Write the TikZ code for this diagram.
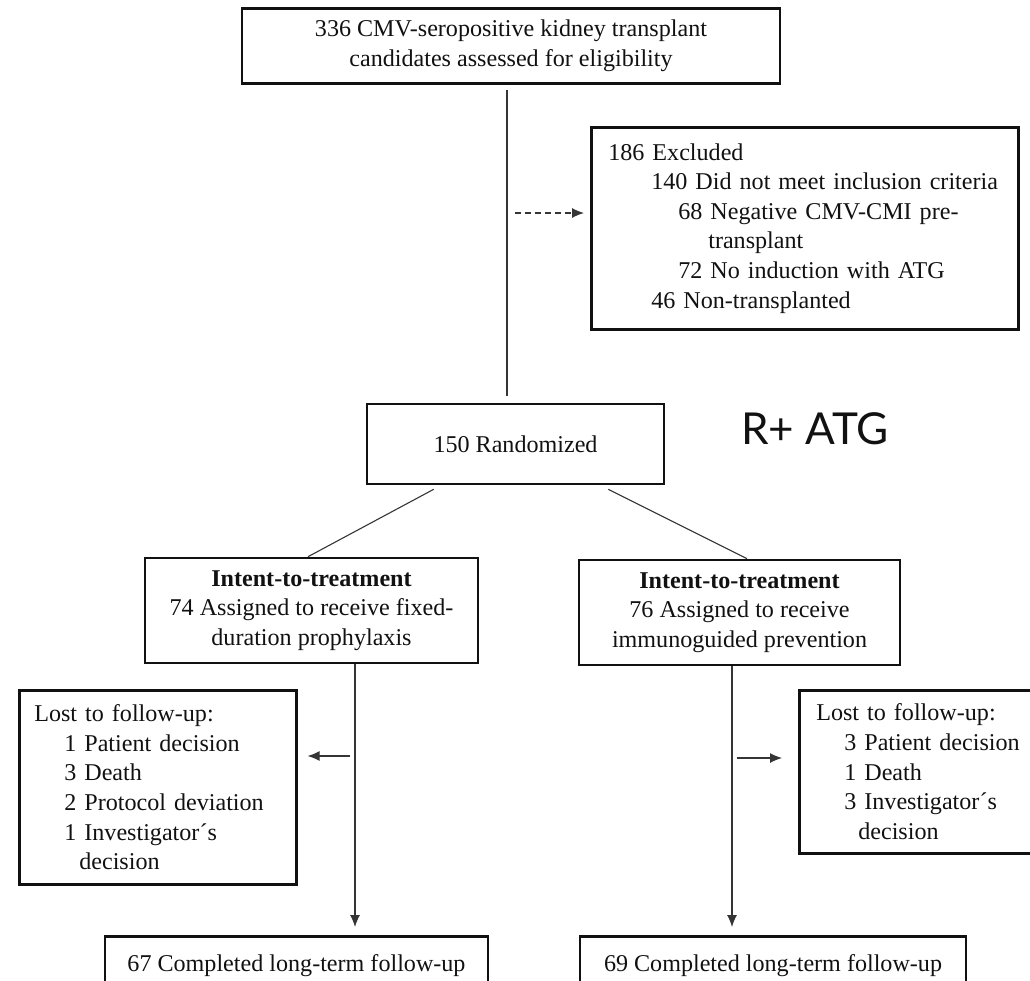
\documentclass[tikz,border=0pt]{standalone}
\usepackage{fontspec}
\setmainfont{Liberation Serif}
\newfontfamily\tagfont{Lato}
\usetikzlibrary{arrows.meta}
\setlength{\parindent}{0pt}
\definecolor{ink}{HTML}{111111}

\begin{document}
\begin{tikzpicture}[
  x=1pt, y=-1pt,
  font=\fontsize{24.1}{29.6}\selectfont,
  box/.style={draw=ink, line width=2.6pt, text=ink, align=center, inner sep=0pt},
  side/.style={box, anchor=north west, align=left, inner ysep=0pt},
  link/.style={line width=1.1pt, color=ink!85},
  arr/.style={link, -{Latex[length=12pt, width=10pt]}},
  tag/.style={font=\tagfont\fontsize{44}{44}\selectfont, text=ink, inner sep=0pt}
]
  \useasboundingbox (0,0) rectangle (1030,980);

  \node[box, minimum width=538pt, minimum height=75pt] (top) at (511,46)
    {336 CMV-seropositive kidney transplant\\ candidates assessed for eligibility};

  \node[side, minimum width=427pt, minimum height=202pt, inner xsep=0pt, text width=427pt] (excl) at (590,126)
    {\hspace*{17pt}186 Excluded\\
     \hspace*{60pt}140 Did not meet inclusion criteria\\
     \hspace*{87pt}68 Negative CMV-CMI pre-\\
     \hspace*{117pt}transplant\\
     \hspace*{87pt}72 No induction with ATG\\
     \hspace*{60pt}46 Non-transplanted};

  \node[box, minimum width=297pt, minimum height=80pt] (rand) at (515.5,444) {150 Randomized};
  \node[tag, anchor=base] (ratg) at (815,444) {R+ ATG};

  \node[box, minimum width=333pt, minimum height=105pt] (itt1) at (311.5,610.5)
    {\textbf{Intent-to-treatment}\\ 74 Assigned to receive fixed-\\ duration prophylaxis};
  \node[box, minimum width=321pt, minimum height=105pt] (itt2) at (739.5,612.5)
    {\textbf{Intent-to-treatment}\\ 76 Assigned to receive\\ immunoguided prevention};

  \node[side, minimum width=277pt, minimum height=194pt, inner xsep=15pt, text width=247pt] (lostL) at (18,689)
    {Lost to follow-up:\\
     \hspace*{30pt}1 Patient decision\\
     \hspace*{30pt}3 Death\\
     \hspace*{30pt}2 Protocol deviation\\
     \hspace*{30pt}1 Investigator´s\\
     \hspace*{45pt}decision};
  \node[side, minimum width=260pt, minimum height=163pt, inner xsep=17pt, text width=226pt] (lostR) at (798,689)
    {Lost to follow-up:\\
     \hspace*{28pt}3 Patient decision\\
     \hspace*{28pt}1 Death\\
     \hspace*{28pt}3 Investigator´s\\
     \hspace*{42pt}decision};

  \node[box, anchor=north, minimum width=383pt, minimum height=58pt] (bot1) at (296.5,935)
    {67 Completed long-term follow-up};
  \node[box, anchor=north, minimum width=386pt, minimum height=58pt] (bot2) at (773,935)
    {69 Completed long-term follow-up};

  \coordinate (trunk) at (507,213);
  \coordinate (forkL) at (355,756);
  \coordinate (forkR) at (732,758);

  \draw[link, shorten <=5pt, shorten >=7pt] (top.south -| trunk) -- (rand.north -| trunk);
  \draw[arr, dash pattern=on 6pt off 4pt, shorten <=8pt, shorten >=6pt] (trunk) -- (excl.west |- trunk);
  \draw[link] ([xshift=68pt, yshift=-4pt]rand.south west) -- ([xshift=-3.5pt]itt1.north);
  \draw[link] ([xshift=-57pt, yshift=-4pt]rand.south east) -- ([xshift=7.5pt]itt2.north);
  \draw[arr, shorten >=8pt] (itt1.south -| forkL) -- (bot1.north -| forkL);
  \draw[arr, shorten >=8pt] (itt2.south -| forkR) -- (bot2.north -| forkR);
  \draw[arr, shorten <=5pt, shorten >=10pt] (forkL) -- (lostL.east |- forkL);
  \draw[arr, shorten <=5pt, shorten >=16pt] (forkR) -- (lostR.west |- forkR);
\end{tikzpicture}
\end{document}
